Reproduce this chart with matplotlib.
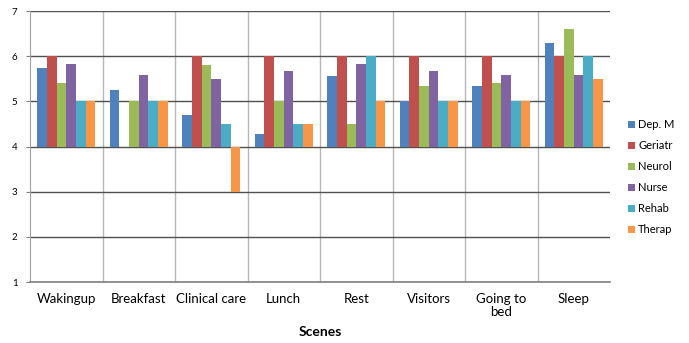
import matplotlib
matplotlib.use("Agg")
import matplotlib.pyplot as plt
import numpy as np

scenes = ["Wakingup", "Breakfast", "Clinical care", "Lunch", "Rest",
          "Visitors", "Going to\nbed", "Sleep"]
series_names = ["Dep. M", "Geriatr", "Neurol", "Nurse", "Rehab", "Therap"]

dep_m   = [5.73, 5.25, 4.70, 4.27, 5.56, 5.00, 5.33, 6.29]
geriatr = [6.00, 4.00, 6.00, 6.00, 6.00, 6.00, 6.00, 6.00]
neurol  = [5.40, 5.00, 5.80, 5.00, 4.50, 5.33, 5.40, 6.60]
nurse   = [5.82, 5.58, 5.50, 5.67, 5.82, 5.67, 5.58, 5.58]
rehab   = [5.00, 5.00, 4.50, 4.50, 6.00, 5.00, 5.00, 6.00]
therap  = [5.00, 5.00, 3.00, 4.50, 5.00, 5.00, 5.00, 5.50]

baseline = 4
yticks = [1, 2, 3, 4, 5, 6, 7]

colors = ["#4F81BD", "#C0504D", "#9BBB59", "#8064A2", "#4BACC6", "#F79646"]
series = [dep_m, geriatr, neurol, nurse, rehab, therap]

plt.rcParams['font.family'] = ['Lato', 'DejaVu Sans']

fig = plt.figure(figsize=(6.89, 3.43), dpi=100)
ax = fig.add_axes([30 / 689, 1 - 282 / 343, (610 - 30) / 689, (282 - 11) / 343])

n = len(series)
x = np.arange(len(scenes))
group = 0.8
w = group / n
for i, (vals, c, name) in enumerate(zip(series, colors, series_names)):
    v = np.array(vals)
    ax.bar(x - group / 2 + w * (i + 0.5), v - baseline, width=w, bottom=baseline,
           color=c, label=name, zorder=3, linewidth=0)

ax.set_xlim(-0.5, len(scenes) - 0.5)
ax.set_ylim(1, 7)
ax.set_yticks(yticks)
ax.set_yticklabels([str(t) for t in yticks], fontsize=7)
ax.yaxis.grid(True, color="#505050", linewidth=1.0, zorder=0)
for b in np.arange(0.5, len(scenes) - 0.5, 1):
    ax.axvline(b, color="#b8b8b8", linewidth=1.0, zorder=0)
ax.set_xticks(x)
ax.set_xticklabels(scenes, fontsize=9.5, va="top", linespacing=1.1)
ax.tick_params(axis="x", length=0, pad=8)
ax.tick_params(axis="y", length=3, color="#808080", pad=6)

for s in ["top", "right"]:
    ax.spines[s].set_visible(False)
ax.spines["left"].set_color("#a0a0a0")
ax.spines["bottom"].set_color("#808080")
ax.spines["bottom"].set_linewidth(1.2)

ax.set_xlabel("Scenes", fontsize=10, fontweight="bold", labelpad=6)

leg = ax.legend(loc="center left", bbox_to_anchor=(1.02, 0.387), frameon=False,
                fontsize=8, handlelength=0.6, handleheight=0.6,
                handletextpad=0.3, labelspacing=0.9, borderaxespad=0.2)

fig.savefig("out.png", dpi=100, facecolor="white")
